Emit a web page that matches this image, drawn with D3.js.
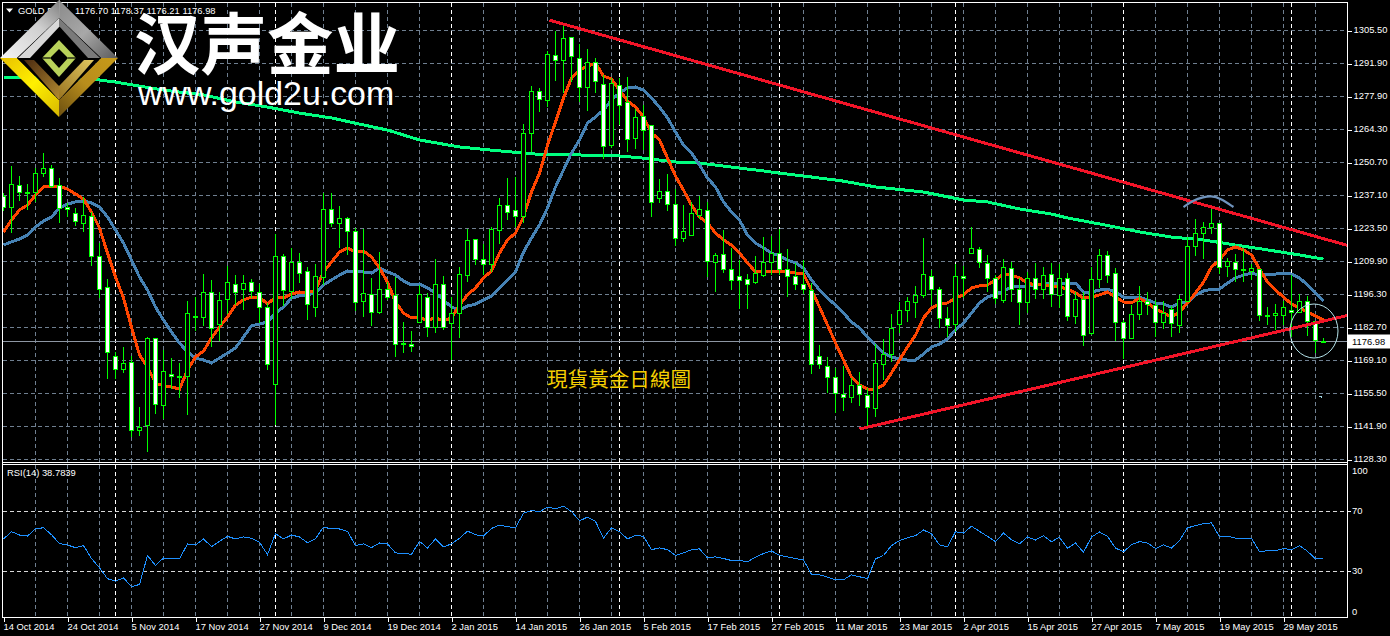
<!DOCTYPE html>
<html><head><meta charset="utf-8">
<script src="https://cdn.jsdelivr.net/npm/d3@7"></script>
<style>
html,body{margin:0;padding:0;background:#000;overflow:hidden}
svg{display:block}
text{font-family:"Liberation Sans",Arial,sans-serif;fill:#fff}
</style></head><body>
<script>
const priceLabels=["1305.50","1291.90","1277.90","1264.30","1250.70","1237.10","1223.50","1209.90","1196.30","1182.70","1169.10","1155.50","1141.90","1128.30"];
const dateLabels=["14 Oct 2014","24 Oct 2014","5 Nov 2014","17 Nov 2014","27 Nov 2014","9 Dec 2014","19 Dec 2014","2 Jan 2015","14 Jan 2015","26 Jan 2015","5 Feb 2015","17 Feb 2015","27 Feb 2015","11 Mar 2015","23 Mar 2015","2 Apr 2015","15 Apr 2015","27 Apr 2015","7 May 2015","19 May 2015","29 May 2015"];
const monthStartBars=[14,34,56,77,97,119,140,161];
const rsiLevels=[70,30];
const rsiLabels=[100,70,30,0];

const opens=[1237.0,1232.5,1241.6,1238.1,1238.7,1246.5,1248.6,1241.2,1232.5,1230.0,
1225.9,1228.4,1211.9,1199.1,1170.6,1165.2,1168.1,1140.0,1142.1,1178.0,
1150.7,1163.5,1162.3,1162.7,1186.7,1186.7,1197.0,1183.8,1194.1,1200.7,
1198.6,1201.5,1197.0,1190.8,1159.4,1211.9,1197.8,1209.4,1205.7,1190.8,
1203.2,1231.3,1225.9,1227.6,1222.2,1193.3,1196.2,1189.1,1198.6,1195.8,
1176.3,1175.9,1185.0,1195.3,1182.9,1200.3,1184.2,1188.7,1204.4,1218.9,
1211.0,1208.6,1223.0,1233.3,1230.9,1228.4,1262.7,1280.4,1276.3,1294.9,
1293.2,1302.7,1294.0,1281.7,1292.0,1283.3,1258.1,1282.5,1275.5,1261.0,
1269.7,1266.0,1236.2,1239.1,1233.7,1219.3,1220.9,1228.8,1230.9,1209.4,
1212.7,1206.9,1203.6,1202.4,1201.5,1204.4,1209.4,1213.5,1206.5,1204.0,
1200.3,1198.2,1170.6,1166.8,1161.9,1154.9,1154.0,1158.6,1154.5,1149.1,
1167.3,1171.4,1183.8,1189.6,1192.9,1195.8,1204.0,1198.6,1186.3,1183.8,
1204.0,1213.5,1214.8,1209.0,1202.8,1193.7,1207.3,1198.6,1192.9,1202.8,
1198.6,1204.8,1195.8,1202.8,1187.1,1194.1,1180.1,1202.4,1212.3,1205.2,
1184.6,1178.0,1188.3,1193.3,1192.0,1184.6,1190.0,1183.4,1193.3,1216.0,
1221.4,1224.2,1225.5,1208.1,1209.4,1206.5,1205.7,1206.9,1187.9,1187.9,
1187.9,1189.6,1189.1,1193.3,1185.4,1176.70];
const highs=[1238.3,1249.4,1245.3,1242.0,1248.6,1254.8,1249.9,1244.5,1234.2,1232.1,
1236.6,1230.4,1217.6,1202.8,1172.6,1174.7,1171.0,1149.9,1178.8,1178.0,
1173.5,1170.1,1168.1,1193.7,1195.3,1204.8,1202.4,1197.4,1208.1,1204.4,
1204.4,1202.8,1200.7,1192.9,1221.4,1213.1,1215.6,1213.5,1207.7,1209.0,
1238.3,1238.3,1232.9,1228.4,1223.8,1223.4,1203.2,1213.9,1201.5,1203.6,
1185.0,1181.3,1200.3,1197.0,1211.0,1204.0,1195.3,1207.7,1223.4,1218.9,
1217.2,1224.2,1236.2,1244.5,1244.9,1266.8,1282.5,1281.7,1296.9,1305.2,
1307.3,1302.7,1299.8,1297.8,1294.0,1287.0,1285.8,1285.8,1286.2,1273.0,
1274.6,1266.0,1244.1,1246.1,1239.9,1233.3,1234.6,1237.0,1234.6,1213.5,
1223.0,1215.6,1210.6,1204.8,1212.3,1220.1,1220.5,1223.4,1215.2,1209.4,
1210.6,1201.1,1175.5,1170.6,1166.0,1166.8,1161.9,1164.4,1157.8,1175.9,
1178.0,1188.3,1193.3,1195.3,1199.9,1219.7,1206.5,1199.5,1191.2,1209.0,
1208.1,1224.2,1216.0,1212.7,1204.4,1211.0,1209.8,1203.2,1205.7,1209.4,
1207.7,1209.4,1209.0,1205.2,1197.4,1197.4,1207.7,1215.2,1214.3,1207.3,
1185.8,1192.0,1199.9,1197.4,1194.1,1193.7,1191.6,1196.2,1220.1,1227.6,
1226.3,1231.7,1225.5,1211.4,1213.1,1215.2,1209.0,1206.9,1191.2,1192.4,
1193.7,1204.4,1196.6,1195.8,1185.4,1178.37];
const lows=[1230.9,1221.8,1235.0,1231.3,1234.6,1244.9,1240.4,1225.9,1228.4,1224.7,
1222.2,1208.1,1194.9,1161.5,1161.5,1164.0,1137.5,1137.9,1131.3,1147.0,
1145.0,1157.3,1153.6,1146.6,1181.3,1183.4,1174.7,1177.2,1188.3,1192.0,
1190.0,1194.9,1184.6,1165.2,1142.5,1191.6,1194.5,1201.1,1185.8,1187.1,
1200.3,1224.2,1215.6,1212.7,1189.6,1187.1,1183.4,1188.3,1194.1,1170.6,
1172.2,1172.6,1184.6,1178.8,1180.5,1181.7,1169.3,1178.4,1201.5,1208.6,
1204.4,1205.7,1217.2,1227.1,1224.2,1225.9,1255.2,1271.7,1273.8,1284.5,
1279.6,1284.1,1275.9,1272.2,1279.6,1252.3,1256.9,1266.4,1255.2,1256.5,
1256.0,1228.4,1234.2,1230.9,1216.4,1218.1,1220.5,1227.6,1203.6,1197.4,
1205.2,1198.2,1190.4,1190.4,1200.7,1203.6,1204.4,1204.4,1195.3,1198.2,
1196.6,1163.5,1165.6,1155.7,1147.4,1148.3,1151.6,1150.3,1141.6,1145.8,
1161.1,1168.5,1180.5,1185.0,1186.7,1194.9,1192.0,1182.5,1178.8,1180.9,
1194.9,1213.1,1207.3,1197.4,1192.4,1192.9,1193.3,1183.8,1188.7,1194.5,
1194.5,1191.2,1190.8,1185.4,1184.2,1175.1,1179.6,1199.1,1201.1,1177.2,
1169.7,1178.0,1185.8,1187.9,1178.8,1182.1,1178.8,1180.5,1193.3,1212.3,
1211.0,1221.4,1204.8,1203.6,1201.5,1201.5,1202.4,1185.4,1183.8,1181.7,
1183.8,1178.8,1188.7,1179.2,1172.2,1176.21];
const closes=[1232.5,1242.0,1238.3,1238.5,1246.5,1248.6,1240.8,1231.7,1231.3,1226.7,
1228.8,1211.9,1198.6,1172.6,1165.2,1167.7,1140.0,1141.6,1178.0,1151.1,
1164.4,1162.7,1162.7,1188.7,1187.1,1197.0,1182.5,1193.7,1201.5,1197.0,
1201.1,1197.8,1190.8,1167.3,1211.9,1198.2,1209.4,1205.2,1192.4,1203.6,
1231.3,1225.9,1227.6,1222.2,1192.9,1196.6,1189.1,1198.6,1195.3,1175.9,
1175.9,1174.7,1196.2,1182.9,1200.3,1182.9,1188.7,1204.8,1218.5,1211.0,
1208.6,1223.4,1233.3,1230.4,1228.4,1262.7,1280.4,1277.1,1295.3,1293.2,
1302.3,1294.5,1281.7,1292.4,1284.5,1257.3,1283.7,1274.6,1260.6,1269.3,
1264.3,1234.2,1239.1,1233.7,1219.3,1222.2,1230.0,1231.3,1209.8,1212.3,
1206.9,1202.0,1202.0,1200.3,1205.2,1209.4,1213.5,1206.9,1203.6,1200.3,
1198.6,1167.3,1167.3,1161.9,1155.3,1154.0,1158.6,1154.9,1149.5,1167.7,
1171.4,1182.5,1189.6,1193.3,1195.8,1204.8,1198.6,1186.3,1183.4,1204.0,
1202.8,1215.2,1209.4,1202.8,1194.9,1207.7,1198.6,1192.9,1202.8,1198.6,
1204.4,1196.2,1202.8,1187.1,1194.1,1179.6,1202.4,1212.3,1204.4,1184.6,
1178.4,1188.3,1193.3,1192.4,1184.6,1188.7,1184.2,1194.1,1216.0,1221.4,
1224.2,1225.5,1207.7,1209.8,1206.5,1206.1,1207.3,1187.5,1187.5,1188.7,
1190.8,1189.1,1193.3,1185.4,1177.2,1176.98];

const fastMA=[1222.2,1227.1,1231.3,1233.3,1237.5,1240.8,1240.8,1241.2,1239.9,1237.9,
1235.8,1230.4,1223.8,1213.5,1203.6,1194.9,1182.9,1171.4,1166.4,1159.8,
1158.6,1158.2,1157.3,1165.2,1170.6,1173.0,1178.4,1182.9,1187.1,1192.0,
1194.1,1195.3,1195.3,1192.4,1195.3,1194.9,1196.6,1197.4,1197.0,1198.2,
1205.7,1209.8,1213.9,1215.6,1213.9,1214.3,1211.9,1207.3,1201.5,1193.3,
1188.7,1186.7,1186.7,1185.8,1186.7,1185.4,1186.7,1192.0,1196.2,1199.1,
1203.2,1206.1,1213.5,1218.9,1221.8,1228.4,1238.7,1246.5,1258.1,1267.6,
1277.5,1285.8,1289.1,1290.7,1292.0,1286.6,1285.4,1280.8,1276.3,1273.8,
1269.7,1263.1,1260.2,1252.7,1245.3,1239.5,1233.3,1228.4,1225.9,1221.8,
1218.9,1216.8,1213.5,1209.4,1205.7,1205.7,1205.7,1205.7,1205.7,1205.2,
1204.8,1198.2,1191.2,1183.8,1176.3,1169.3,1162.3,1159.0,1157.3,1157.3,
1159.0,1164.0,1169.3,1174.7,1179.6,1186.7,1190.8,1192.4,1192.9,1194.9,
1196.2,1199.1,1199.9,1200.3,1202.4,1204.8,1204.4,1203.2,1201.1,1200.3,
1200.3,1199.9,1199.5,1198.6,1197.0,1194.9,1195.3,1196.2,1197.4,1195.3,
1193.3,1192.9,1194.9,1192.9,1190.4,1188.7,1187.1,1189.1,1192.9,1197.0,
1201.5,1207.7,1210.6,1214.8,1216.0,1214.8,1212.7,1206.9,1201.5,1198.2,
1195.3,1192.4,1190.8,1189.1,1187.5,1185.8];
const slowMA=[1216.8,1218.1,1219.3,1220.9,1224.2,1226.7,1228.4,1232.1,1233.7,1234.6,
1235.0,1234.2,1232.5,1228.4,1223.0,1217.6,1210.6,1203.6,1198.2,1191.2,
1185.8,1180.9,1176.3,1172.6,1170.1,1169.3,1168.1,1170.1,1172.2,1174.3,
1178.8,1183.4,1184.2,1185.0,1188.7,1191.2,1194.9,1195.8,1196.2,1197.0,
1200.3,1202.4,1204.4,1206.1,1205.7,1205.7,1205.2,1207.3,1205.7,1204.4,
1202.0,1200.3,1200.7,1199.1,1197.0,1194.1,1191.2,1190.0,1191.6,1192.4,
1194.1,1195.8,1199.1,1202.4,1205.7,1213.9,1219.7,1225.1,1232.1,1240.8,
1247.8,1254.8,1260.2,1267.2,1269.7,1272.6,1276.7,1279.6,1281.7,1282.1,
1280.8,1277.5,1273.8,1269.3,1263.5,1258.1,1254.8,1249.9,1244.5,1240.8,
1234.6,1230.4,1227.1,1220.9,1217.6,1215.6,1213.5,1212.3,1210.6,1209.4,
1207.3,1202.4,1198.2,1194.9,1192.0,1188.7,1185.0,1182.5,1178.8,1175.5,
1172.2,1170.6,1169.7,1169.3,1169.3,1171.8,1174.7,1175.9,1178.0,1181.7,
1184.6,1188.7,1192.9,1195.3,1196.6,1197.8,1199.5,1199.5,1199.9,1200.3,
1200.7,1201.1,1200.7,1201.1,1201.1,1197.4,1197.4,1198.2,1198.6,1197.4,
1195.3,1195.3,1195.3,1194.1,1192.9,1192.4,1191.2,1192.9,1192.9,1196.2,
1197.8,1198.6,1198.6,1201.1,1203.2,1204.4,1205.2,1204.4,1204.8,1204.8,
1205.2,1204.8,1203.2,1200.3,1197.0,1193.7];
const longMABars=[0,4,12,14,20,25,29,33,37,41,45,48,52,57,61,65,68,72,77,80,84,87,90,95,97,101,105,109,115,120,123,127,131,133,137,142,146,150,154,158,162,165];
const longMAValues=[1285.8,1285.8,1285.0,1284.1,1280.8,1278.8,1275.9,1273.8,1271.3,1269.3,1266.4,1264.3,1260.2,1257.3,1256.0,1254.8,1254.0,1254.0,1253.6,1252.7,1251.1,1250.7,1249.4,1247.4,1246.5,1244.9,1243.2,1240.8,1238.7,1235.4,1234.6,1231.7,1229.6,1228.0,1225.5,1222.2,1220.1,1218.9,1216.8,1214.8,1212.7,1211.0];
const rsiValues=[51.8,56.6,54.4,53.7,58.6,59.2,54.6,48.7,47.8,46.0,
47.4,38.8,32.6,25.4,23.8,26.0,20.1,21.6,40.8,34.2,
39.2,38.6,38.6,48.5,47.8,51.8,46.7,50.2,53.5,51.8,
53.1,52.2,49.6,41.4,55.3,51.8,54.4,53.1,49.3,52.0,
59.7,58.4,58.4,56.8,47.4,48.5,46.0,49.1,48.5,42.5,
42.3,41.6,50.2,45.8,51.8,46.5,48.5,52.2,57.0,54.6,
53.7,58.8,61.0,59.9,59.2,68.9,70.7,69.8,72.9,71.8,
73.5,70.0,63.8,66.3,63.4,52.4,59.2,56.6,51.8,54.2,
53.5,44.7,45.8,44.7,40.8,42.5,44.7,45.2,39.2,39.9,
38.8,37.5,37.5,36.6,39.7,42.1,43.8,41.0,39.9,38.8,
37.9,28.2,28.0,26.5,24.7,24.7,28.0,26.7,25.4,38.6,
40.8,47.4,50.7,52.6,54.0,57.7,55.3,47.8,46.5,56.6,
55.7,60.3,56.8,53.5,50.0,55.7,51.3,48.5,53.1,51.1,
54.0,50.0,52.9,45.6,49.1,43.0,53.1,56.4,53.5,45.8,
43.2,48.0,50.0,49.1,45.4,47.8,45.8,50.7,59.2,60.6,
61.9,62.5,53.1,53.7,52.4,52.4,52.4,43.2,44.1,44.1,
45.4,44.7,47.4,43.6,38.6,38.8];

const upperTrendBars=[68.25,168.25], upperTrendPrices=[1309.7,1216.4];
const lowerTrendBars=[107,168.25], lowerTrendPrices=[1140.8,1187.9];
const arcBars=[147.5,148.75,150,150.9,152.1,153.75], arcPrices=[1232.5,1235.4,1236.6,1237.1,1236.2,1232.5];
const lastPrice=1176.98;

const W=1390,H=636, L=3, R=1347, mainTop=3, mainBottom=462, rsiTop=465, rsiBottom=617;
const svg=d3.select("body").append("svg").attr("width",W).attr("height",H).style("background","#000");
const n=closes.length;
const x=d3.scaleLinear().domain([0,165]).range([3.5,1323.5]);
const y=d3.scaleLinear().domain([1128.3,1305.5]).range([459.3,30.3]);
const yTicks=d3.scalePoint().domain(priceLabels).range([30.5,459.5]);
const r=d3.scaleLinear().domain([0,100]).range([617,466.3]);
const snap=v=>Math.floor(v)+0.5;
const gridColor="#6f7f90";
const labelSize=9.4;

const defs=svg.append("defs");
defs.append("clipPath").attr("id","mainClip").append("rect").attr("x",L).attr("y",mainTop).attr("width",R-L).attr("height",mainBottom-mainTop);
function grad(id,x1,y1,x2,y2,stops){
  const g=defs.append("linearGradient").attr("id",id).attr("x1",x1).attr("y1",y1).attr("x2",x2).attr("y2",y2);
  stops.forEach(s=>g.append("stop").attr("offset",s[0]).attr("stop-color",s[1]));
}
grad("gUL",0,1,1,0,[[0,"#f4f4f4"],[.6,"#cfcfcf"],[1,"#808080"]]);
grad("gUR",0,0,1,1,[[0,"#8a8a8a"],[.5,"#a8a8a8"],[1,"#5a5a5a"]]);
grad("gLL",0,0,1,1,[[0,"#e8c000"],[.5,"#fff000"],[1,"#d8b800"]]);
grad("gLR",1,0,0,1,[[0,"#c79a18"],[.5,"#b88d1c"],[1,"#6b4f10"]]);
grad("gInL",0,0,1,1,[[0,"#4a2a10"],[1,"#b28a30"]]);
grad("gInR",1,0,0,1,[[0,"#e0c860"],[1,"#9a7420"]]);

// vertical and horizontal grid
const gridBars=d3.range(0,170,4).filter(b=>x(b)<R);
const gGrid=svg.append("g").attr("stroke-width",1).attr("fill","none").attr("shape-rendering","crispEdges");
gridBars.slice(1).forEach(b=>{
  [[mainTop,mainBottom],[rsiTop,rsiBottom]].forEach(p=>{
    gGrid.append("line").attr("x1",x(b)).attr("x2",x(b)).attr("y1",p[0]).attr("y2",p[1]).attr("stroke",gridColor).attr("stroke-dasharray","4 3");
  });
});
priceLabels.forEach(l=>{
  gGrid.append("line").attr("x1",L).attr("x2",R).attr("y1",yTicks(l)).attr("y2",yTicks(l)).attr("stroke",gridColor).attr("stroke-dasharray","4 3");
});
rsiLevels.forEach(l=>{
  gGrid.append("line").attr("x1",L).attr("x2",R).attr("y1",snap(r(l))).attr("y2",snap(r(l))).attr("stroke","#d8d8d8").attr("stroke-dasharray","4 3");
});
monthStartBars.forEach(b=>{
  [[mainTop,mainBottom],[rsiTop,rsiBottom]].forEach(p=>{
    gGrid.append("line").attr("x1",x(b)).attr("x2",x(b)).attr("y1",p[0]).attr("y2",p[1]).attr("stroke","#fff").attr("stroke-dasharray","4 3");
  });
});
// last price line
gGrid.append("line").attr("x1",L).attr("x2",R).attr("y1",snap(y(lastPrice))).attr("y2",snap(y(lastPrice))).attr("stroke","#8d96a3");

// moving averages
const main=svg.append("g").attr("clip-path","url(#mainClip)");
const lineBar=d3.line().x((d,i)=>x(i)).y(d=>y(d));
const lineXY=d3.line().x(d=>x(d[0])).y(d=>y(d[1]));
const jag=sel=>sel.attr("fill","none").attr("shape-rendering","crispEdges");
jag(main.append("path")).attr("d",lineXY(d3.zip(longMABars,longMAValues))).attr("stroke","#00ff7f").attr("stroke-width",3);
jag(main.append("path")).attr("d",lineBar(slowMA)).attr("stroke","#4682b4").attr("stroke-width",3);
jag(main.append("path")).attr("d",lineBar(fastMA)).attr("stroke","#ff4500").attr("stroke-width",3);

// candles
const candles=main.append("g").attr("shape-rendering","crispEdges");
d3.range(n).forEach(i=>{
  const cx=x(i);
  candles.append("line").attr("x1",cx).attr("x2",cx).attr("y1",y(highs[i])).attr("y2",y(lows[i])).attr("stroke","#00ff00");
  const top=snap(y(Math.max(opens[i],closes[i]))), bot=snap(y(Math.min(opens[i],closes[i])));
  candles.append("rect").attr("x",cx-2).attr("width",4).attr("y",top).attr("height",Math.max(bot-top,1))
    .attr("fill",closes[i]<opens[i]?"#fff":"#000").attr("stroke","#00ff00");
});

// drawn objects
jag(main.append("path")).attr("d",lineXY(d3.zip(upperTrendBars,upperTrendPrices))).attr("stroke","#f21428").attr("stroke-width",3);
jag(main.append("path")).attr("d",lineXY(d3.zip(lowerTrendBars,lowerTrendPrices))).attr("stroke","#f21428").attr("stroke-width",3);
main.append("path").attr("d",d3.line().curve(d3.curveBasis).x(d=>x(d[0])).y(d=>y(d[1]))(d3.zip(arcBars,arcPrices))).attr("fill","none").attr("stroke","#6f93bd").attr("stroke-width",2.2);
main.append("ellipse").attr("cx",1314).attr("cy",331).attr("rx",24).attr("ry",27).attr("fill","none").attr("stroke","#b5e3ea").attr("stroke-width",1);
main.append("path").attr("d","M1319 396.5h3M1321 397.5h1").attr("stroke","#9fd3e0").attr("stroke-width",1);

// RSI
jag(svg.append("path")).attr("d",d3.line().x((d,i)=>x(i)).y(d=>r(d))(rsiValues)).attr("stroke","#1e90ff").attr("stroke-width",1);
svg.append("text").attr("x",7).attr("y",476).attr("font-size",labelSize).text("RSI(14) 38.7839");

// frames
const frame=svg.append("g").attr("stroke","#fff").attr("shape-rendering","crispEdges");
frame.append("line").attr("x1",2.5).attr("x2",2.5).attr("y1",2).attr("y2",618);
frame.append("line").attr("x1",2).attr("x2",R+1).attr("y1",2.5).attr("y2",2.5);
frame.append("line").attr("x1",R+.5).attr("x2",R+.5).attr("y1",2).attr("y2",618);
frame.append("line").attr("x1",2).attr("x2",R+1).attr("y1",462.5).attr("y2",462.5);
frame.append("line").attr("x1",2).attr("x2",R+1).attr("y1",464.5).attr("y2",464.5);
frame.append("line").attr("x1",2).attr("x2",R+1).attr("y1",617.5).attr("y2",617.5);

// price axis
const axisY=svg.append("g").attr("transform",`translate(${R+.5},0)`).call(d3.axisRight(yTicks).tickSize(4).tickPadding(2));
axisY.select(".domain").remove();
axisY.selectAll("line").attr("stroke","#fff").attr("shape-rendering","crispEdges");
axisY.selectAll("text").attr("font-size",labelSize).attr("dy","0.22em").attr("font-family",'"Liberation Sans",Arial,sans-serif').attr("fill","#fff");

// date axis
const barsPerLabel=8;
const labelBars=dateLabels.map((d,i)=>i*barsPerLabel);
const axisX=svg.append("g").attr("transform","translate(0,617.5)").call(d3.axisBottom(x).tickValues(labelBars).tickFormat((d,i)=>dateLabels[i]).tickSize(4).tickPadding(2));
axisX.select(".domain").remove();
axisX.selectAll("line").attr("stroke","#fff").attr("shape-rendering","crispEdges");
axisX.selectAll("text").attr("font-size",labelSize).attr("text-anchor","start").attr("dx",-.5).attr("font-family",'"Liberation Sans",Arial,sans-serif').attr("fill","#fff");

// RSI axis labels
const axisR=svg.append("g");
rsiLabels.forEach(v=>{
  const yy=v===100?470:v===0?611:r(v)-1;
  axisR.append("text").attr("x",R+5).attr("y",yy+3.5).attr("font-size",labelSize).text(v);
  if(v===70||v===30) axisR.append("line").attr("x1",R).attr("x2",R+4).attr("y1",snap(r(v))).attr("y2",snap(r(v))).attr("stroke","#fff").attr("shape-rendering","crispEdges");
});

// last price tag
svg.append("rect").attr("x",R+1).attr("y",snap(y(lastPrice))-7).attr("width",W-R-1).attr("height",14).attr("fill","#fff");
svg.append("text").attr("x",R+5).attr("y",snap(y(lastPrice))+3.5).attr("font-size",labelSize).style("fill","#000").text(lastPrice.toFixed(2));

// header
svg.append("path").attr("d","M6 8.5h7l-3.5 4z").attr("fill","#fff");
svg.append("text").attr("x",18).attr("y",14).attr("font-size",labelSize).text("GOLD,Daily");
svg.append("text").attr("x",75).attr("y",14).attr("font-size",labelSize).text("1176.70 1178.37 1176.21 1176.98");

// annotation
svg.append("text").attr("x",547).attr("y",387).attr("font-size",20.6).style("font-family",'"Noto Sans CJK TC"').style("fill","#f5cf00").text("現貨黃金日線圖");

// logo
const logo=svg.append("g");
const poly=(pts,fill)=>logo.append("polygon").attr("points",pts).attr("fill",fill);
poly("0,58 59,0 59,18 17,58","url(#gUL)");
poly("59,0 118,58 101,58 59,18","url(#gUR)");
poly("59,0 60,0 60,32 59,32","#9a9a9a");
poly("0,58 17,58 59,100 59,117","url(#gLL)");
poly("118,58 101,58 59,100 59,117","url(#gLR)");
poly("17,58 59,18 101,58 59,100","#000");
poly("24,60 34,60 59,86 59,100","url(#gInL)");
poly("94,60 84,60 59,86 59,100","url(#gInR)");
poly("18,58 59,18 60,26 30,58","#d8d8d8");
poly("100,58 59,18 59,26 88,58","#7a7a7a");
poly("42,58 59,40 76,58 59,77","#b9d25a");
poly("50,58 59,49 68,58 59,68","#000");
poly("42,57.4 50,57.4 50,58.6 42,58.6","#000");
poly("68,57.4 76,57.4 76,58.6 68,58.6","#000");

svg.append("text").attr("x",134).attr("y",69).attr("font-size",66.5).attr("font-weight",700).style("font-family",'"Noto Sans CJK SC"').text("汉声金业");
svg.append("text").attr("x",138).attr("y",105).attr("font-size",33.9).text("www.gold2u.com");
</script>
</body></html>
